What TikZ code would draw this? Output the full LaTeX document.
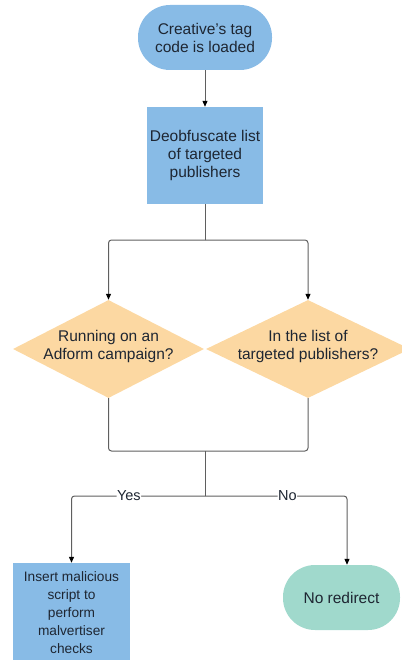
\documentclass[tikz,border=0pt]{standalone}
\usepackage{fontspec}
\setmainfont{Liberation Sans}
\usetikzlibrary{positioning,arrows.meta,shapes.geometric}
\definecolor{bluecol}  {RGB}{136,187,230}
\definecolor{orangecol}{RGB}{252,216,162}
\definecolor{greencol} {RGB}{160,217,204}
\definecolor{textcol}  {RGB}{30,38,50}
\definecolor{linecol}  {RGB}{95,95,95}

\begin{document}
\begin{tikzpicture}[x=1pt,y=-1pt,
  every node/.style={font=\fontsize{15.5}{18}\selectfont,text=textcol},
  tbox/.style={rectangle,rounded corners=32pt,fill=bluecol,
               minimum width=134pt,minimum height=65pt,align=center,inner sep=0pt},
  pbox/.style={rectangle,fill=bluecol,
               minimum width=116pt,minimum height=97pt,align=center,inner sep=0pt},
  dbox/.style={diamond,fill=orangecol,minimum height=98pt,inner sep=0pt},
  gbox/.style={rectangle,rounded corners=32pt,fill=greencol,
               minimum width=117pt,minimum height=65pt,align=center,inner sep=0pt},
  ln/.style ={draw=linecol,line width=1pt,rounded corners=3pt},
  arr/.style={ln,-{Triangle[width=5pt,length=6pt,color=black]}},
  lbl/.style={fill=white,inner sep=0.5pt,font=\fontsize{14.5}{16}\selectfont}
]
\useasboundingbox (0,0) rectangle (401,660);

\node[tbox] (start) at (205,37.5) {Creative\symbol{39}s tag\\code is loaded};
\node[pbox] (deob) at (205,155.5) {Deobfuscate list\\of targeted\\publishers};

\node[dbox,minimum width=191pt,
  label={[align=center,yshift=3pt]center:Running on an\\Adform campaign?}]
  (adf) at (108.5,349) {};
\node[dbox,minimum width=204pt,
  label={[align=center,yshift=3pt]center:In the list of\\targeted publishers?}]
  (tgt) at (308,349) {};

\node[pbox,minimum width=117pt,minimum height=99pt,
  font=\fontsize{13.7}{18}\selectfont] (ins) at (71.5,612.5)
  {Insert malicious\\script to\\perform\\malvertiser\\checks};
\node[gbox] (nored) at (341.5,597.5) {No redirect};

\coordinate (split) at (205,240);
\coordinate (merge) at (205,451);
\coordinate (fork)  at (205,496);

\draw[arr] (start) -- (deob);
\draw[ln] (deob.south) -- (split);
\draw[arr] (split) -| (adf.north);
\draw[arr] (split) -| (tgt.north);
\draw[ln] (adf.south) |- (merge) -| (tgt.south);
\draw[ln] (merge) -- (fork);
\draw[arr] (fork) -| node[lbl,pos=0.285] {Yes} (ins.north);
\draw[arr] (fork) -| node[lbl,pos=0.29] {No} ([xshift=5.5pt]nored.north);
\end{tikzpicture}
\end{document}
